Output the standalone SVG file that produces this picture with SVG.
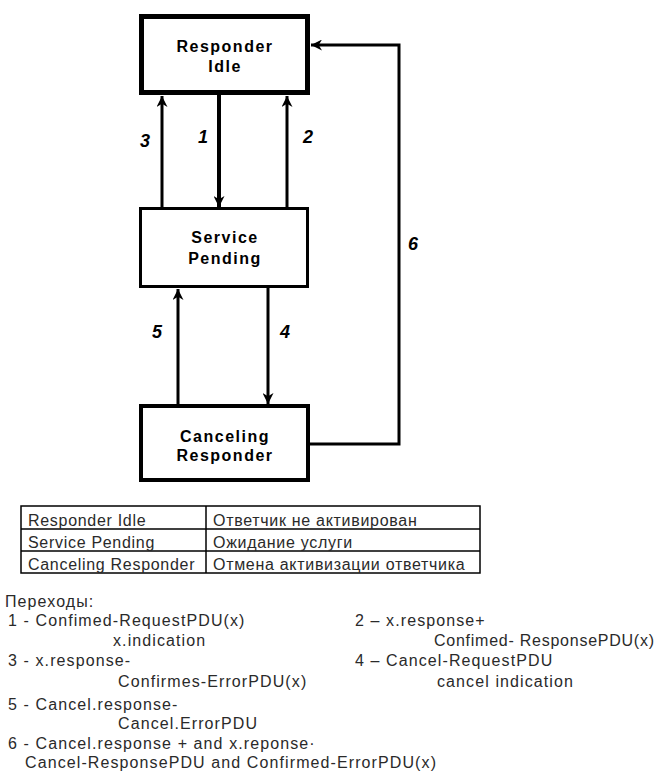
<svg xmlns="http://www.w3.org/2000/svg" width="661" height="778" viewBox="0 0 661 778">
<style>
.box{fill:#fff;stroke:#000}
.bl{font-family:"Liberation Sans",Arial,sans-serif;font-weight:bold;font-size:16px;fill:#000;text-anchor:middle;letter-spacing:1.5px}
.num{font-family:"Liberation Sans",Arial,sans-serif;font-weight:bold;font-style:italic;font-size:18px;fill:#000;text-anchor:middle}
.con{fill:none;stroke:#000;stroke-width:3}
.tx{font-family:"Liberation Sans",Arial,sans-serif;font-size:16px;fill:#2a2a2a;letter-spacing:1.1px}
.tb{fill:none;stroke:#000;stroke-width:1.5}
</style>
<defs>
<marker id="ah" markerUnits="userSpaceOnUse" markerWidth="11" markerHeight="11" viewBox="0 0 10 10" refX="10" refY="5" orient="auto">
<path d="M0,0 L10,5 L0,10 L3,5 z" fill="#000"/>
</marker>
</defs>
<g id="connectors">
<line class="con" x1="162" y1="207" x2="162" y2="96" marker-end="url(#ah)"/>
<line class="con" x1="219" y1="95" x2="219" y2="207" style="stroke-width:4" marker-end="url(#ah)"/>
<line class="con" x1="287" y1="207" x2="287" y2="96" marker-end="url(#ah)"/>
<line class="con" x1="178" y1="404" x2="178" y2="289" marker-end="url(#ah)"/>
<line class="con" x1="268" y1="288" x2="268" y2="404" marker-end="url(#ah)"/>
<polyline class="con" points="310,444 399,444 399,45 311,45" marker-end="url(#ah)"/>
<text class="num" x="145" y="147">3</text>
<text class="num" x="203" y="143">1</text>
<text class="num" x="308" y="143">2</text>
<text class="num" x="413" y="250">6</text>
<text class="num" x="157" y="338">5</text>
<text class="num" x="285" y="338">4</text>
</g>
<g id="responder-idle">
<rect class="box" x="141.5" y="16.5" width="166" height="76" stroke-width="5"/>
<text class="bl" x="225" y="52">Responder</text>
<text class="bl" x="225" y="72">Idle</text>
</g>
<g id="service-pending">
<rect class="box" x="140.5" y="208.5" width="167" height="78" stroke-width="3"/>
<text class="bl" x="225" y="243">Service</text>
<text class="bl" x="225" y="264">Pending</text>
</g>
<g id="canceling-responder">
<rect class="box" x="141" y="406" width="167" height="74" stroke-width="4"/>
<text class="bl" x="225" y="442">Canceling</text>
<text class="bl" x="225" y="461">Responder</text>
</g>
<g id="legend-table">
<rect class="tb" x="21" y="506" width="459" height="67"/>
<line class="tb" x1="206" y1="506" x2="206" y2="573"/>
<line class="tb" x1="21" y1="529" x2="480" y2="529"/>
<line class="tb" x1="21" y1="551" x2="480" y2="551"/>
<text class="tx" x="28" y="526" style="letter-spacing:0.7px">Responder Idle</text>
<text class="tx" x="213" y="526" style="letter-spacing:0.7px">Ответчик не активирован</text>
<text class="tx" x="28" y="548" style="letter-spacing:0.7px">Service Pending</text>
<text class="tx" x="213" y="548" style="letter-spacing:0.7px">Ожидание услуги</text>
<text class="tx" x="28" y="570" style="letter-spacing:0.7px">Canceling Responder</text>
<text class="tx" x="213" y="570" style="letter-spacing:0.7px">Отмена активизации ответчика</text>
</g>
<g id="transitions">
<text class="tx" x="5" y="607">Переходы:</text>
<text class="tx" x="8" y="626">1 - Confimed-RequestPDU(x)</text>
<text class="tx" x="113" y="646">x.indication</text>
<text class="tx" x="8" y="666">3 - x.response-</text>
<text class="tx" x="118" y="687">Confirmes-ErrorPDU(x)</text>
<text class="tx" x="8" y="710">5 - Cancel.response-</text>
<text class="tx" x="118" y="729">Cancel.ErrorPDU</text>
<text class="tx" x="8" y="749">6 - Cancel.response + and x.reponse·</text>
<text class="tx" x="25" y="768">Cancel-ResponsePDU and Confirmed-ErrorPDU(x)</text>
<text class="tx" x="355" y="626">2 – x.response+</text>
<text class="tx" x="434" y="646" style="letter-spacing:0.75px">Confimed- ResponsePDU(x)</text>
<text class="tx" x="355" y="666">4 – Cancel-RequestPDU</text>
<text class="tx" x="437" y="687">cancel indication</text>
</g>
</svg>
